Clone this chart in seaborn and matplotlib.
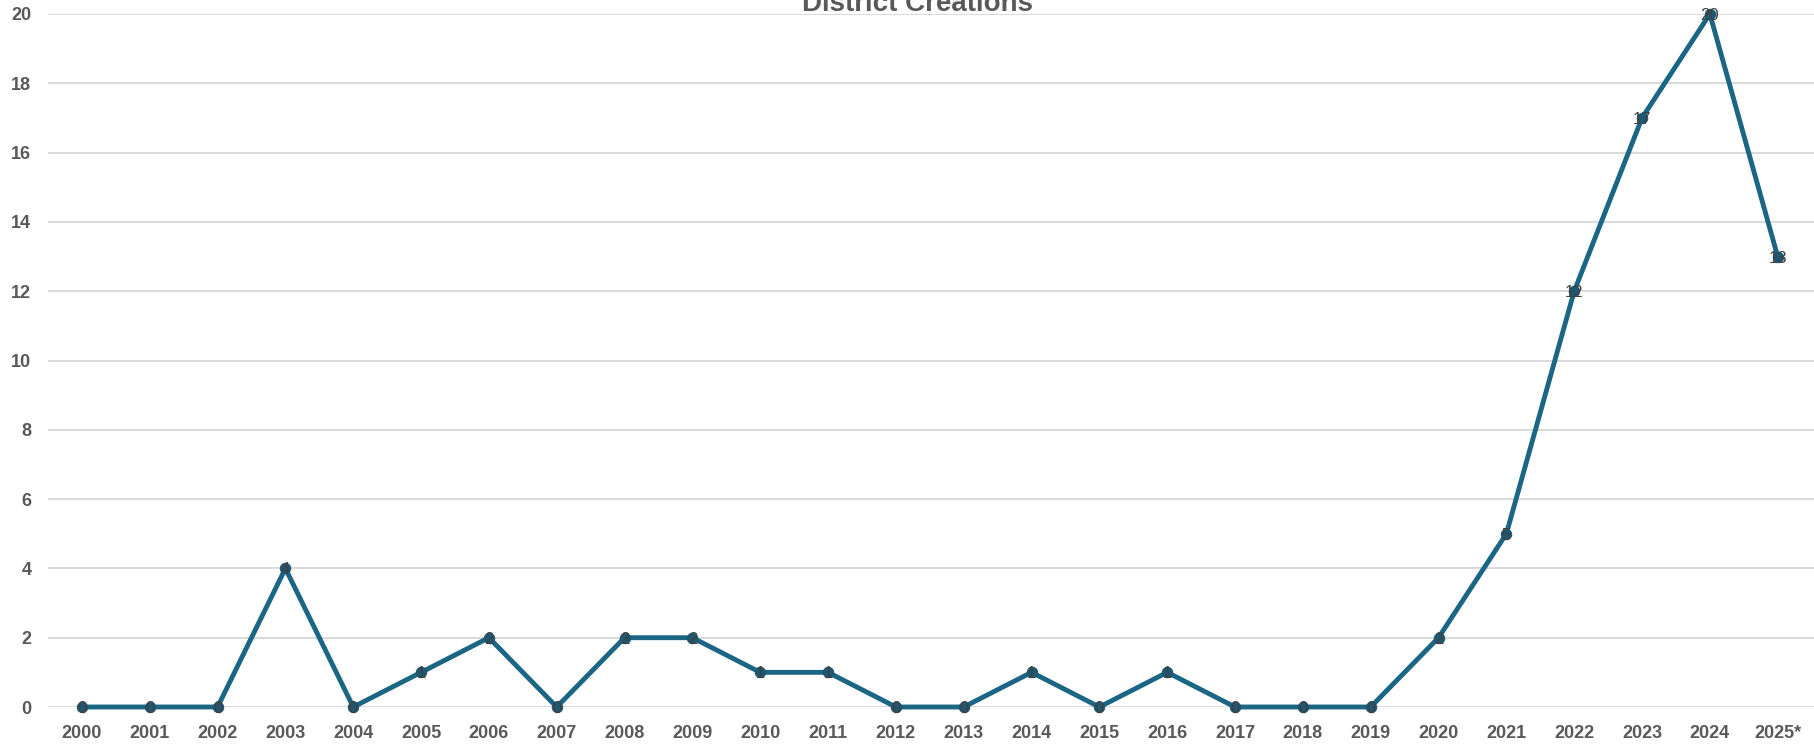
import pandas as pd
import matplotlib
matplotlib.use("Agg")
import matplotlib.pyplot as plt
import seaborn as sns

# chart values
years = ["2000", "2001", "2002", "2003", "2004", "2005", "2006", "2007", "2008",
         "2009", "2010", "2011", "2012", "2013", "2014", "2015", "2016", "2017",
         "2018", "2019", "2020", "2021", "2022", "2023", "2024", "2025*"]
creations = [0, 0, 0, 4, 0, 1, 2, 0, 2, 2, 1, 1, 0, 0, 1, 0, 1, 0, 0, 0,
             2, 5, 12, 17, 20, 13]
y_ticks = [0, 2, 4, 6, 8, 10, 12, 14, 16, 18, 20]

df = pd.DataFrame({"year": years, "count": creations})

sns.set_theme(style="white")
plt.rcParams["font.family"] = ["Liberation Sans", "DejaVu Sans"]

fig = plt.figure(figsize=(18.15, 7.46), dpi=100)
ax = fig.add_axes([48 / 1815, 39 / 746, 1 - 48 / 1815, (732 - 39) / 746])

sns.lineplot(data=df, x="year", y="count", sort=False, ax=ax,
             color="#1b6585", linewidth=3.5, marker="o", markersize=7.5,
             markerfacecolor="#1f5670", markeredgecolor="#1f5670",
             clip_on=False, zorder=3)

# data labels centered on the points
for i, v in enumerate(creations):
    ax.text(i, v, str(v), ha="center", va="center_baseline", fontsize=12,
            color="#404040", zorder=4, clip_on=False)

ax.set_ylim(0, 20)
ax.set_xlim(-0.5, len(years) - 0.45)
ax.set_yticks(y_ticks)
ax.yaxis.grid(True, color="#d9d9d9", linewidth=1.4)
ax.set_axisbelow(True)
for s in ax.spines.values():
    s.set_visible(False)
ax.axhline(0, color="#d9d9d9", linewidth=1.4, zorder=1)

ax.tick_params(axis="both", length=0, labelsize=13, labelcolor="#595959")
ax.tick_params(axis="y", pad=12)
ax.tick_params(axis="x", pad=13)
for lab in ax.get_xticklabels() + ax.get_yticklabels():
    lab.set_fontweight("bold")
ax.set_xlabel("")
ax.set_ylabel("")

# title sits mostly above the canvas, as in the source
fig.text(918 / 1815, (746 - 11) / 746, "District Creations", ha="center",
         va="baseline", fontsize=20, fontweight="bold", color="#595959")

fig.savefig("out.png", dpi=100)
